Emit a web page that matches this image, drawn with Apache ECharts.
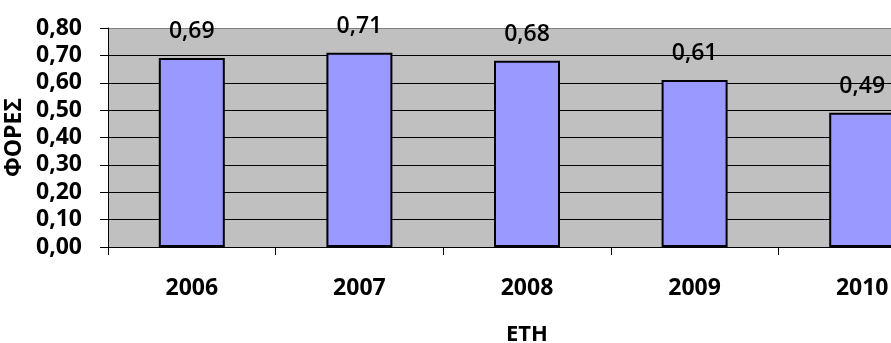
<!DOCTYPE html>
<html>
<head>
<meta charset="utf-8">
<script src="https://cdn.jsdelivr.net/npm/echarts@6/dist/echarts.min.js"></script>
<style>
  html, body { margin: 0; padding: 0; background: #fff; }
  #chart { width: 891px; height: 343px; }
</style>
</head>
<body>
<div id="chart"></div>
<script>
const years = ["2006", "2007", "2008", "2009", "2010"];
const values = [0.69, 0.71, 0.68, 0.61, 0.49];
const yTicks = [0, 0.1, 0.2, 0.3, 0.4, 0.5, 0.6, 0.7, 0.8];

const fmt = v => Number(v).toFixed(2).replace(".", ",");
const font = { fontFamily: "Open Sans", fontWeight: "bold", color: "#000" };

const chart = echarts.init(document.getElementById("chart"), null, { renderer: "canvas" });
chart.setOption({
  animation: false,
  // plot runs past the right edge of the picture, as in the original crop
  grid: { left: 108, width: 838, top: 28, height: 219, outerBoundsMode: "none", containLabel: false, show: true, backgroundColor: "#c0c0c0", borderWidth: 0 },
  xAxis: {
    type: "category",
    data: years,
    name: "ΕΤΗ",
    nameLocation: "middle",
    nameGap: 77,
    nameMoveOverlap: false,
    nameTextStyle: { ...font, fontSize: 22 },
    axisLine: { lineStyle: { color: "#000", width: 1 } },
    axisTick: { show: true, length: 8, lineStyle: { color: "#000" } },
    axisLabel: { ...font, fontSize: 23, margin: 30 },
  },
  yAxis: {
    type: "value",
    min: yTicks[0],
    max: yTicks[yTicks.length - 1],
    interval: 0.1,
    name: "ΦΟΡΕΣ",
    nameLocation: "middle",
    nameGap: 82,
    nameMoveOverlap: false,
    nameTextStyle: { ...font, fontSize: 23 },
    axisLine: { show: true, lineStyle: { color: "#000", width: 1 } },
    axisTick: { show: true, length: 8, lineStyle: { color: "#000" } },
    axisLabel: { ...font, fontSize: 23, margin: 26, formatter: fmt },
    splitLine: { show: true, lineStyle: { color: ["#000", "#000", "#000", "#000", "#000", "#000", "#000", "#000", "#808080"], width: 1 } },
  },
  series: [{
    type: "bar",
    data: values,
    barWidth: 66,
    itemStyle: { color: "#9999ff", borderColor: "#000", borderWidth: 2 },
    label: { show: true, position: "top", distance: 15, ...font, fontWeight: 600, fontSize: 23, formatter: p => fmt(p.value) },
  }],
});
</script>
</body>
</html>
